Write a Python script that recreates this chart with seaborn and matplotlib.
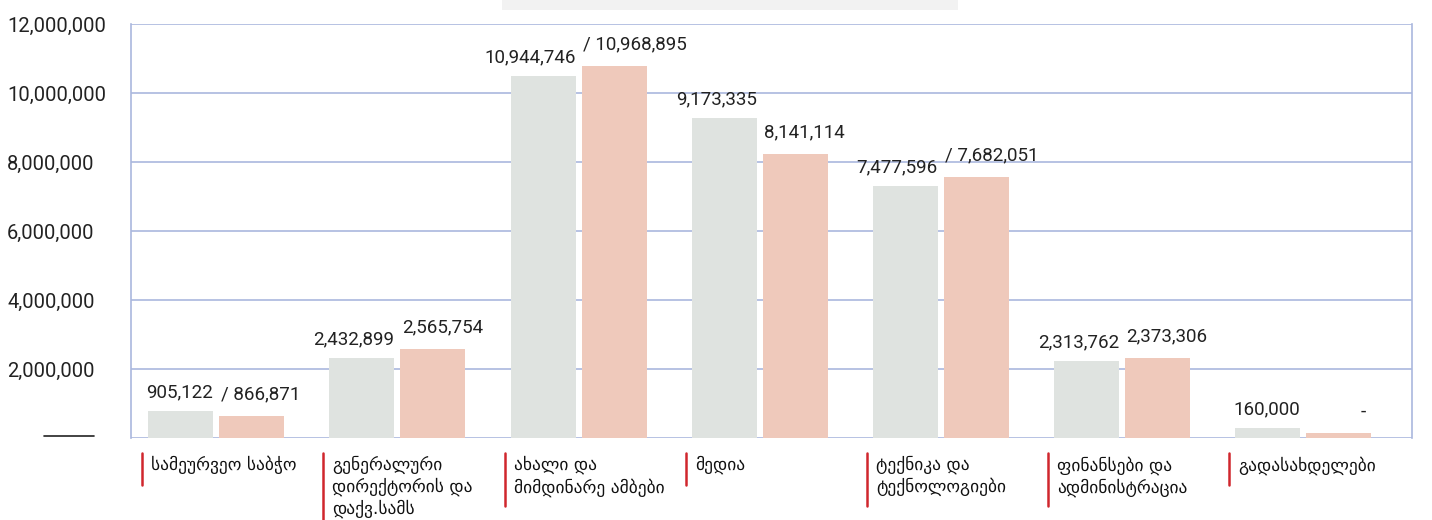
import matplotlib
matplotlib.use("Agg")
import matplotlib.pyplot as plt
import matplotlib.transforms as mtransforms
from matplotlib.lines import Line2D
from matplotlib.patches import Rectangle
import seaborn as sns
import pandas as pd

categories = [
    "სამეურვეო საბჭო",
    "გენერალური\nდირექტორის და\nდაქვ.სამს",
    "ახალი და\nმიმდინარე ამბები",
    "მედია",
    "ტექნიკა და\nტექნოლოგიები",
    "ფინანსები და\nადმინისტრაცია",
    "გადასახდელები",
]
series_names = ["series_1", "series_2"]
values_1 = [780000, 2320000, 10490000, 9280000, 7300000, 2230000, 290000]
values_2 = [640000, 2580000, 10780000, 8230000, 7570000, 2320000, 140000]
labels_1 = ["905,122", "2,432,899", "10,944,746", "9,173,335", "7,477,596", "2,313,762", "160,000"]
labels_2 = ["/ 866,871", "2,565,754", "/ 10,968,895", "8,141,114", "/ 7,682,051", "2,373,306", "-"]
y_ticks = [2000000, 4000000, 6000000, 8000000, 10000000, 12000000]

df = pd.DataFrame({
    "category": categories * 2,
    "series": [series_names[0]] * len(categories) + [series_names[1]] * len(categories),
    "value": values_1 + values_2,
})

sns.set_theme(style="white")
plt.rcParams["font.family"] = ["Roboto", "DejaVu Sans"]

W, H = 1432, 520
fig = plt.figure(figsize=(W / 100, H / 100), dpi=100)
ax = fig.add_axes([131 / W, 1 - 438 / H, (1412 - 131) / W, (438 - 24) / H])

grid_c = "#aab8de"
sns.barplot(data=df, x="category", y="value", hue="series", order=categories,
            hue_order=series_names, palette=["#dfe3e0", "#efc9bb"], saturation=1,
            width=0.784, gap=0.085, legend=False, ax=ax, zorder=3,
            linewidth=0, edgecolor="none")

ax.set_xlim(-0.47, 6.60)
ax.set_ylim(0, 12000000)
ax.set_yticks([0] + y_ticks)
ax.set_yticklabels([""] + [f"{v:,}" for v in y_ticks], fontsize=14.5, color="#222222")
for t in ax.get_yticklabels():
    t.set_horizontalalignment("left")
ax.tick_params(axis="y", length=0, pad=124 * 72 / 100)
ax.tick_params(axis="x", length=0)
ax.set_xticks([])
ax.set_xlabel("")
ax.set_ylabel("")
ax.grid(axis="y", color=grid_c, linewidth=1.2, zorder=0)
for s in ["top", "bottom"]:
    ax.spines[s].set_visible(False)
for s in ["left", "right"]:
    ax.spines[s].set_color(grid_c)
    ax.spines[s].set_linewidth(1.2)

# value labels: first series right-aligned to bar's right edge, second left-aligned to bar's left edge
c1, c2 = ax.containers[0], ax.containers[1]
for patch, lab in zip(c1.patches, labels_1):
    x = patch.get_x() + patch.get_width()
    ax.annotate(lab, (x, patch.get_height()), xytext=(0, 7), textcoords="offset points",
                ha="right", va="bottom", fontsize=13.5, color="#222222")
for patch, lab in zip(c2.patches, labels_2):
    if lab.strip() == "-":
        x = patch.get_x() + patch.get_width() * 0.85
        ha = "center"
    else:
        x = patch.get_x()
        ha = "left"
    ax.annotate(lab, (x, patch.get_height()), xytext=(1, 9), textcoords="offset points",
                ha=ha, va="bottom", fontsize=13.5, color="#222222")

# category labels with red markers
trans = mtransforms.blended_transform_factory(ax.transData, fig.transFigure)
for i, cat in enumerate(categories):
    n_lines = cat.count("\n") + 1
    x_left = i - 0.392
    off_line = mtransforms.ScaledTranslation(-3 / 100, 0, fig.dpi_scale_trans)
    off_text = mtransforms.ScaledTranslation(6 / 100, 0, fig.dpi_scale_trans)
    y0 = 1 - 453 / H
    y1 = 1 - (453 + 32 + (n_lines - 1) * 21) / H
    ln = Line2D([x_left, x_left], [y0, y1], color="#d0262d", linewidth=1.8,
                transform=trans + off_line, clip_on=False)
    fig.add_artist(ln)
    fig.text(x_left, 1 - 456 / H, cat, transform=trans + off_text, ha="left", va="top",
             fontsize=12.5, family=["DejaVu Sans"], color="#111111", linespacing=1.25)

# decorative short line and legend box
fig.add_artist(Line2D([44 / W, 94 / W], [1 - 436 / H, 1 - 436 / H], color="#222222", linewidth=1.2))
fig.add_artist(Rectangle((502 / W, 1 - 10 / H), (958 - 502) / W, 10 / H,
                         transform=fig.transFigure, facecolor="#f2f2f2", edgecolor="none"))

fig.savefig("out.png", dpi=100)
